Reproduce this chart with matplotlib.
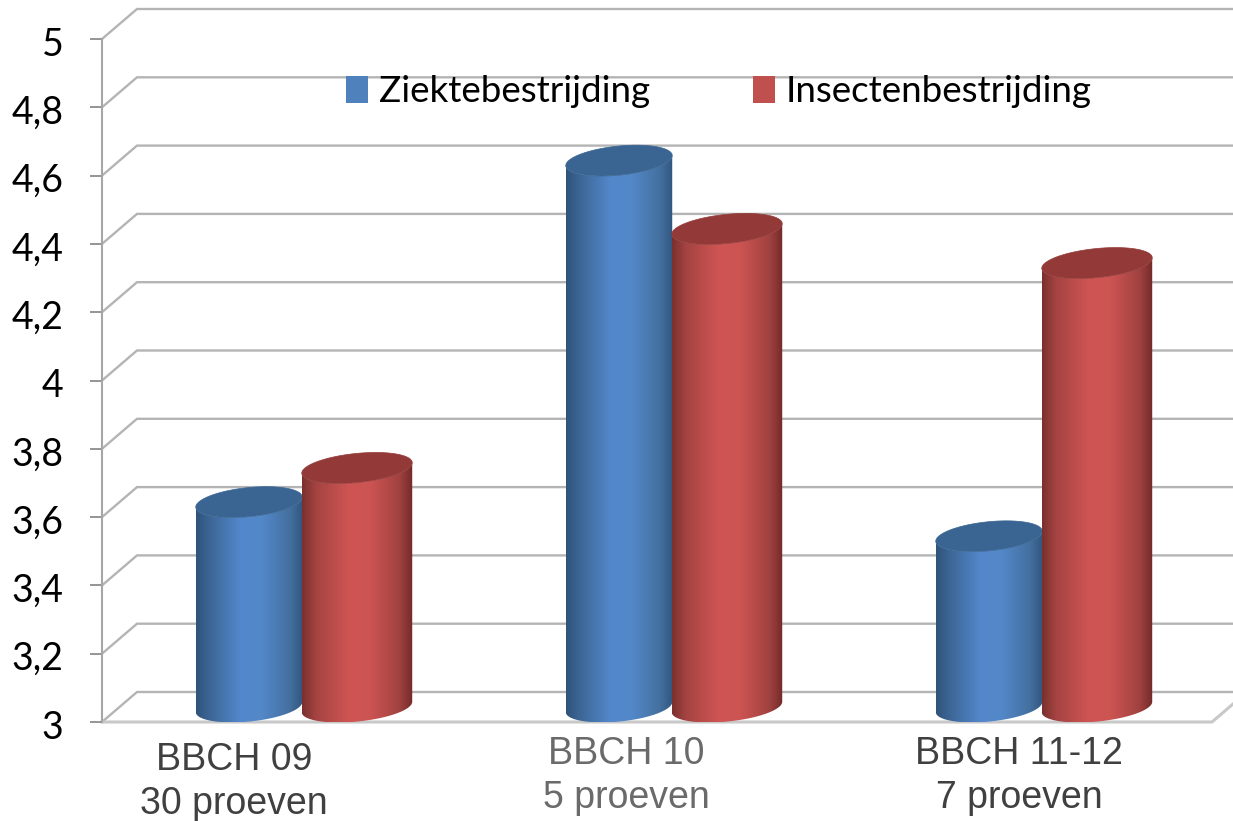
import numpy as np
import matplotlib
matplotlib.use("Agg")
import matplotlib.pyplot as plt
from matplotlib.colors import LinearSegmentedColormap
from matplotlib.patches import Patch, Polygon
from matplotlib.transforms import ScaledTranslation

categories = ["BBCH 09\n30 proeven", "BBCH 10\n5 proeven", "BBCH 11-12\n7 proeven"]
series_names = ["Ziektebestrijding", "Insectenbestrijding"]
ziekte = [3.6, 4.6, 3.5]
insecten = [3.7, 4.4, 4.3]
y_ticks = [3, 3.2, 3.4, 3.6, 3.8, 4, 4.2, 4.4, 4.6, 4.8, 5]
y_labels = ["3", "3,2", "3,4", "3,6", "3,8", "4", "4,2", "4,4", "4,6", "4,8", "5"]

W, H = 1233, 821
L, R, T, B = 102, 1212, 39, 722
fig = plt.figure(figsize=(W / 100, H / 100), dpi=100, facecolor="white")
ax = fig.add_axes([L / W, (H - B) / H, (R - L) / W, (B - T) / H])
ax.patch.set_visible(False)
ax.set_xlim(-0.5, 2.5)
ax.set_ylim(3, 5)
ux = 3 / (R - L)      # data units per pixel
uy = 2 / (B - T)
GRID = "#b4b4b4"

# 3-D box
ddx, ddy = 35 * ux, 30 * uy
for v in y_ticks:
    ax.plot([-0.5, -0.5 + ddx, 2.5 + ddx], [v, v + ddy, v + ddy], color=GRID, lw=1.7,
            clip_on=False, zorder=1, solid_joinstyle="miter")
ax.plot([-0.5, 2.5, 2.5 + ddx], [3, 3, 3 + ddy], color="#c8c8c8", lw=2.2, clip_on=False, zorder=1)

for s in ["top", "right", "bottom"]:
    ax.spines[s].set_visible(False)
ax.spines["left"].set_color("#a6a6a6")
ax.spines["left"].set_linewidth(1.5)
ax.set_yticks(y_ticks, y_labels, fontfamily="Lato", fontsize=27, color="black")
ax.tick_params(axis="y", length=8.6, width=1.3, color="#8c8c8c", pad=19)
ax.set_xticks([])
for lab in ax.get_yticklabels():
    lab.set_transform(lab.get_transform() + ScaledTranslation(0, -2 / 100, fig.dpi_scale_trans))


def ell(cx, cy, t, a, b=14.5, tilt=np.deg2rad(5.8)):
    """Tilted ellipse points; a, b in pixels, centre in data units."""
    ex = a * np.cos(t) * np.cos(tilt) - b * np.sin(t) * np.sin(tilt)
    ey = a * np.cos(t) * np.sin(tilt) + b * np.sin(t) * np.cos(tilt)
    return cx + ex * ux, cy + ey * uy


def cylinder(xc, val, stops, top, z, a):
    cx = xc + 17 * ux
    shift = 15 * uy
    t_low = np.linspace(np.pi, 2 * np.pi, 80)
    xb, yb = ell(cx, 3 + shift, t_low, a)
    t_up = np.linspace(2 * np.pi, np.pi, 80)
    xt, yt = ell(cx, val + shift, t_up, a)
    body = Polygon(np.column_stack([np.r_[xb, xt], np.r_[yb, yt]]), closed=True,
                   transform=ax.transData, fc="none", ec="none")
    ax.add_patch(body)
    cmap = LinearSegmentedColormap.from_list("c", stops)
    grad = np.linspace(0, 1, 256)[None, :]
    im = ax.imshow(grad, cmap=cmap, aspect="auto", interpolation="bilinear", zorder=z,
                   extent=(xb.min(), xb.max(), 3, val + 2 * shift), clip_on=True)
    im.set_clip_path(body)
    tt = np.linspace(0, 2 * np.pi, 160)
    xe, ye = ell(cx, val + shift, tt, a)
    ax.fill(xe, ye, color=top, zorder=z + 0.1, lw=0.5, clip_on=False)


blue = [(0, "#2f5379"), (0.12, "#3c6594"), (0.42, "#5388cc"), (0.62, "#5287c8"),
        (0.88, "#44709f"), (1, "#31567f")]
red = [(0, "#7a302e"), (0.12, "#a34341"), (0.42, "#ce5553"), (0.62, "#cc5452"),
       (0.88, "#a04240"), (1, "#732a29")]
for i in range(3):
    cylinder(i - 55 * ux, ziekte[i], blue, "#3a6593", 3 + i, 53.5)
    cylinder(i + 53 * ux, insecten[i], red, "#933a38", 3.5 + i, 55.5)
ax.set_xlim(-0.5, 2.5)
ax.set_ylim(3, 5)

# category labels
cat_dx = [-53, -31, -8]
cat_dy = [-60, -54, -54]
cat_col = ["#404040", "#6a6a6a", "#404040"]
for i, lab in enumerate(categories):
    ax.annotate(lab, xy=(i, 3), xytext=(cat_dx[i], cat_dy[i]), textcoords="offset pixels",
                ha="center", va="center", fontfamily="Liberation Sans", fontsize=27,
                color=cat_col[i], linespacing=1.32, annotation_clip=False)

handles = [Patch(fc="#4f81bd", ec="none"), Patch(fc="#c0504d", ec="none")]
ax.legend(handles, series_names, ncol=2, frameon=False, loc="center left",
          bbox_to_anchor=(0.2195, 0.923), prop={"family": "Lato", "size": 26.5},
          handlelength=0.6, handleheight=0.75, handletextpad=0.3, columnspacing=2.8,
          borderpad=0, borderaxespad=0)

fig.savefig("out.png", dpi=100, facecolor="white")
